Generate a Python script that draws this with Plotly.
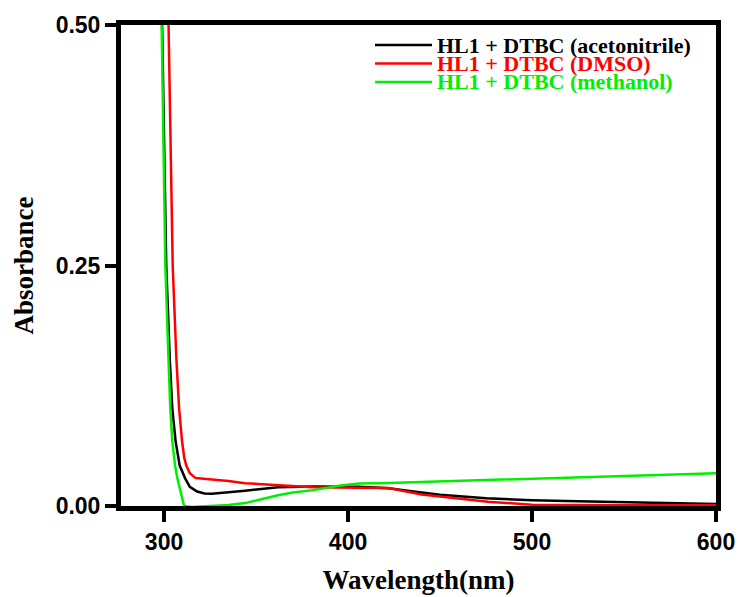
import plotly.graph_objects as go

# ---- data ----
wl_acn = [298.5, 299.0, 301.2, 303.1, 304.5, 306.3, 308.5, 311.4, 314.0, 318.0, 322.0, 326.0,
          335.0, 344.0, 362.0, 381.0, 406.0, 422.0, 440.0, 450.0, 475.0, 500.0, 525.0, 551.0,
          575.0, 600.0]
abs_acn = [0.55, 0.50, 0.25, 0.153, 0.101, 0.067, 0.042, 0.029, 0.020, 0.015, 0.013, 0.0127,
           0.014, 0.0158, 0.0196, 0.0203, 0.020, 0.0185, 0.014, 0.0117, 0.008, 0.006, 0.005, 0.004,
           0.003, 0.002]

wl_dmso = [302.0, 302.4, 304.7, 306.7, 308.2, 309.8, 311.0, 312.1, 314.0, 317.2, 320.0, 326.0,
           335.0, 344.0, 362.5, 381.0, 406.0, 422.0, 440.0, 450.0, 459.0, 476.0, 500.0, 520.0,
           550.0, 600.0]
abs_dmso = [0.55, 0.50, 0.25, 0.153, 0.101, 0.067, 0.050, 0.042, 0.034, 0.029, 0.0285, 0.028,
            0.026, 0.0237, 0.0213, 0.0196, 0.019, 0.0186, 0.012, 0.010, 0.008, 0.0045, 0.0013,
            0.001, 0.0008, 0.0008]

wl_meoh = [298.3, 298.7, 300.7, 302.4, 303.4, 304.5, 306.0, 307.2, 309.0, 310.9, 315.0, 324.5,
           335.0, 344.0, 353.0, 362.5, 370.0, 381.0, 395.0, 406.0, 422.0, 440.0, 450.0, 476.0,
           500.0, 525.0, 551.0, 575.0, 600.0]
abs_meoh = [0.55, 0.50, 0.25, 0.153, 0.101, 0.067, 0.042, 0.029, 0.015, 0.0, -0.001, 0.0,
            0.001, 0.003, 0.007, 0.0115, 0.014, 0.0165, 0.021, 0.0235, 0.024, 0.025, 0.0255, 0.027,
            0.0289, 0.030, 0.0316, 0.033, 0.034]

series_names = ["HL1 + DTBC (acetonitrile)", "HL1 + DTBC (DMSO)", "HL1 + DTBC (methanol)"]
series_colors = ["#000000", "#ff0000", "#00ee00"]
x_ticks = [300, 400, 500, 600]
y_ticks = [0.0, 0.25, 0.5]

# ---- figure ----
W, H = 738, 597
ML, MR, MT, MB = 121, 22, 25, 91
fig = go.Figure()
for xs, ys, name, col in zip([wl_acn, wl_dmso, wl_meoh], [abs_acn, abs_dmso, abs_meoh],
                             series_names, series_colors):
    fig.add_trace(go.Scatter(x=xs, y=ys, mode="lines", name=name,
                             line=dict(color=col, width=2.5), showlegend=False))

# manual legend (tight row spacing as in the reference)
pw, ph = W - ML - MR, H - MT - MB
def px2paper(xp, yp):
    return (xp - ML) / pw, 1 - (yp - MT) / ph

rows_y = [45, 63.5, 82]
for name, col, ry in zip(series_names, series_colors, rows_y):
    x0, y0 = px2paper(375, ry)
    x1, _ = px2paper(432, ry)
    xt, _ = px2paper(436, ry)
    fig.add_shape(type="line", xref="paper", yref="paper", x0=x0, x1=x1, y0=y0, y1=y0,
                  line=dict(color=col, width=2.5))
    fig.add_annotation(xref="paper", yref="paper", x=xt, y=y0, xanchor="left", yanchor="middle",
                       text=name, showarrow=False, borderpad=0,
                       font=dict(family="Liberation Serif, Times New Roman, serif", size=22,
                                 color=col, weight="bold"))

tickfont = dict(family="Liberation Sans, Arial, sans-serif", size=23, color="black", weight="bold")
titlefont = dict(family="Liberation Serif, Times New Roman, serif", size=27, color="black",
                 weight="bold")

fig.update_xaxes(range=[276.6, 600], tickvals=x_ticks, ticktext=[str(v) for v in x_ticks],
                 showline=True, linewidth=5, linecolor="black", mirror=True,
                 ticks="outside", ticklen=11, tickwidth=4, tickcolor="black",
                 showgrid=False, zeroline=False, tickfont=tickfont, automargin=False,
                 title=dict(text="Wavelength(nm)", font=titlefont, standoff=18))
fig.update_yaxes(range=[0, 0.5], tickvals=y_ticks, ticktext=["%.2f" % v for v in y_ticks],
                 showline=True, linewidth=5, linecolor="black", mirror=True,
                 ticks="outside", ticklen=11, tickwidth=4, tickcolor="black",
                 showgrid=False, zeroline=False, tickfont=tickfont, automargin=False,
                 title=dict(text="Absorbance", font=titlefont, standoff=16))

fig.update_layout(width=W, height=H, margin=dict(l=ML, r=MR, t=MT, b=MB, autoexpand=False),
                  plot_bgcolor="white", paper_bgcolor="white", showlegend=False)

fig.write_html("out.html")
